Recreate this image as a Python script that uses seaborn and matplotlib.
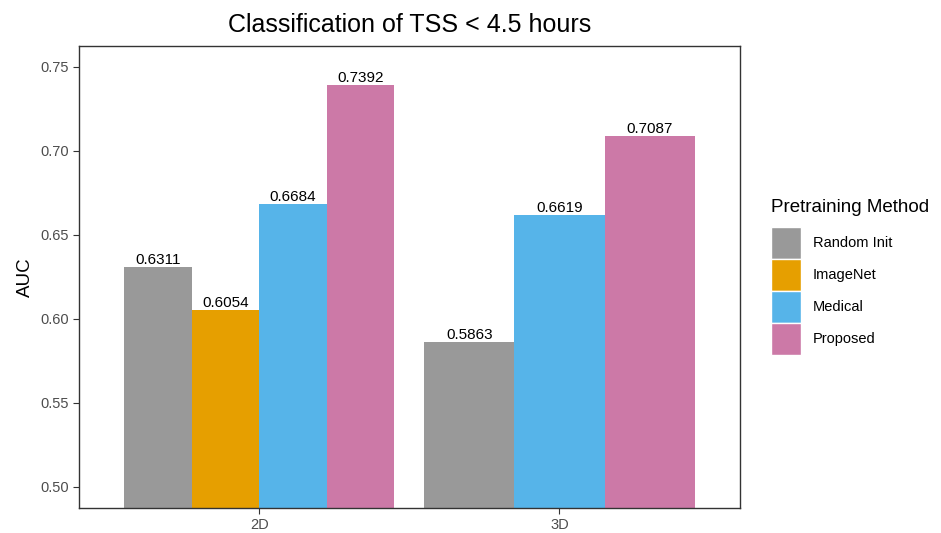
import matplotlib
matplotlib.use("Agg")
import matplotlib.pyplot as plt
import seaborn as sns
import pandas as pd
from matplotlib.patches import Patch

# data
methods = ["Random Init", "ImageNet", "Medical", "Proposed"]
colors = ["#999999", "#E69F00", "#56B4E9", "#CC79A7"]
dims = ["2D", "3D"]
auc_2d = [0.6311, 0.6054, 0.6684, 0.7392]
methods_3d = ["Random Init", "Medical", "Proposed"]
auc_3d = [0.5863, 0.6619, 0.7087]

df2 = pd.DataFrame({"Dim": "2D", "Method": methods, "AUC": auc_2d})
df3 = pd.DataFrame({"Dim": "3D", "Method": methods_3d, "AUC": auc_3d})
palette = dict(zip(methods, colors))

sns.set_style("white")
plt.rcParams["font.family"] = ["Liberation Sans", "DejaVu Sans"]

fig = plt.figure(figsize=(9.41, 5.33), dpi=100)
ax = fig.add_axes([0.084, 0.047, 0.702, 0.867])

# ggplot-style dodge: each group splits the full width among its own bars
sns.barplot(data=df2, x="Dim", y="AUC", hue="Method", order=dims,
            hue_order=methods, palette=palette, width=0.9, gap=0,
            saturation=1, linewidth=0, ax=ax, legend=False)
sns.barplot(data=df3, x="Dim", y="AUC", hue="Method", order=dims,
            hue_order=methods_3d, palette=palette, width=0.9, gap=0,
            saturation=1, linewidth=0, ax=ax, legend=False)

for c in ax.containers:
    ax.bar_label(c, fmt="%.4f", padding=0, fontsize=11, color="black")

ax.set_ylim(0.4875, 0.7625)
ax.set_xlim(-0.6, 1.6)
ax.set_yticks([0.50, 0.55, 0.60, 0.65, 0.70, 0.75])
ax.set_yticklabels(["0.50", "0.55", "0.60", "0.65", "0.70", "0.75"])
ax.tick_params(axis="both", length=4, width=0.8, color="#333333",
               labelsize=10.5, labelcolor="#4D4D4D", left=True, bottom=True)
ax.set_xlabel("")
ax.set_ylabel("AUC", fontsize=13.5, color="black")
for s in ax.spines.values():
    s.set_color("#333333")
    s.set_linewidth(1.0)

ax.set_title("Classification of TSS < 4.5 hours", fontsize=18, pad=10,
             color="black")

handles = [Patch(facecolor=palette[m], edgecolor="white", linewidth=1, label=m)
           for m in methods]
leg = ax.legend(handles=handles, title="Pretraining Method",
                loc="center left", bbox_to_anchor=(1.038, 0.5), frameon=False,
                fontsize=10.5, title_fontsize=13.5, handlelength=2.1,
                handleheight=3.0, handletextpad=0.8, labelspacing=0.0,
                borderaxespad=0)
leg.get_title().set_color("black")
for t in leg.get_texts():
    t.set_color("black")
leg._legend_box.align = "left"
leg._legend_box.sep = 8

fig.savefig("out.png", dpi=100)
